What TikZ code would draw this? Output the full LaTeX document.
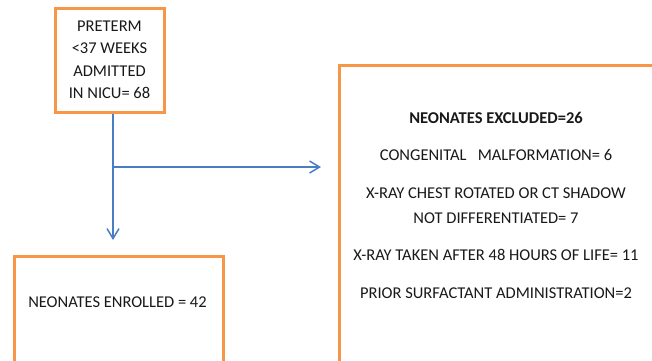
\documentclass[tikz,border=0pt]{standalone}
\usepackage{fontspec}
\setmainfont{Carlito}
\usetikzlibrary{arrows.meta}
\definecolor{boxorange}{HTML}{F79646}
\definecolor{lineblue}{HTML}{4A7EC4}
\begin{document}
\begin{tikzpicture}[x=1pt,y=-1pt,
  box/.style={draw=boxorange, line width=3pt, fill=white, inner sep=0pt},
  txt/.style={font=\fontsize{16.5}{22.5}\selectfont, align=center, text=black!90},
  conn/.style={draw=lineblue, line width=1.5pt},
  arr/.style={conn, -{Straight Barb[length=10pt,width=12pt,line width=1.5pt]}}]
\useasboundingbox (0,0) rectangle (652,360);
\clip (0,0) rectangle (652,360);
% boxes
\node[box, minimum width=109, minimum height=104, txt] (pre) at (109.5,60)
  {PRETERM\\<37 WEEKS\\ADMITTED\\IN NICU= 68};
\node[box, minimum width=209, minimum height=200, anchor=north west] (enr) at (13,255) {};
\node[box, minimum width=316, minimum height=360, anchor=north west] (exc) at (338,64) {};
% texts
\node[txt] (enrt) at (117.5,302) {NEONATES ENROLLED = 42};
\node[txt, font=\fontsize{16.5}{22.5}\selectfont\bfseries] (ex0) at (496,118) {NEONATES EXCLUDED=26};
\node[txt] (ex1) at (496,155) {CONGENITAL\ \ \ MALFORMATION= 6};
\node[txt, font=\fontsize{16.5}{25}\selectfont] (ex2) at (496,205.5) {X-RAY CHEST ROTATED OR CT SHADOW\\NOT DIFFERENTIATED= 7};
\node[txt] (ex3) at (496,255) {X-RAY TAKEN AFTER 48 HOURS OF LIFE= 11};
\node[txt] (ex4) at (496,293) {PRIOR SURFACTANT ADMINISTRATION=2};
% connectors
\coordinate (j) at (113,167);
\draw[conn] (pre.south -| j) -- (j);
\draw[arr, shorten >=15pt] (j) -- (enr.north -| j);
\draw[arr, shorten >=17pt] (j) -- (exc.west |- j);
\end{tikzpicture}
\end{document}
